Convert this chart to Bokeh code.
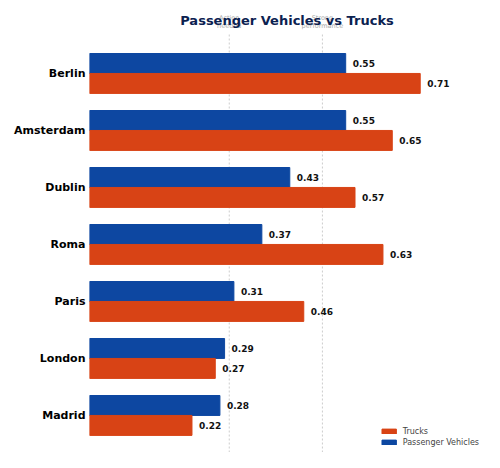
from bokeh.core.properties import value
from bokeh.models import ColumnDataSource, Range1d, LabelSet, Label, Legend, LegendItem, FixedTicker
from bokeh.plotting import figure
from bokeh.embed import file_html
from bokeh.resources import INLINE

cities = ["Berlin", "Amsterdam", "Dublin", "Roma", "Paris", "London", "Madrid"]
passenger = [0.55, 0.55, 0.43, 0.37, 0.31, 0.29, 0.28]
trucks = [0.71, 0.65, 0.57, 0.63, 0.46, 0.27, 0.22]
thresholds = [0.30, 0.50]
threshold_names = [("Action", "needed"), ("Strong", "performance")]

FONT = "DejaVu Sans"
BLUE = "#0d47a1"
ORANGE = "#d84315"
BAR_H = 0.35

# Berlin on top: row index counts up from the bottom
rows = [len(cities) - 1 - i for i in range(len(cities))]
src = ColumnDataSource(dict(
    city=cities,
    y_pass=[r + BAR_H / 2 for r in rows],
    y_truck=[r - BAR_H / 2 for r in rows],
    passenger=passenger,
    trucks=trucks,
    passenger_txt=[f"{v:.2f}" for v in passenger],
    trucks_txt=[f"{v:.2f}" for v in trucks],
))

y_top = rows[0] + 1.28
y_bottom = -0.65
x_end = 0.848

p = figure(
    width=484, height=452,
    x_range=Range1d(0, x_end), y_range=Range1d(y_bottom, y_top),
    output_backend="svg", toolbar_location=None,
    min_border_left=89, min_border_right=0, min_border_bottom=0, min_border_top=0,
)
p.outline_line_color = None
p.grid.grid_line_color = None
p.xaxis.visible = False
p.yaxis.ticker = FixedTicker(ticks=rows)
p.yaxis.major_label_overrides = {r: c for r, c in zip(rows, cities)}
p.yaxis.axis_line_color = None
p.yaxis.major_tick_line_color = None
p.yaxis.minor_tick_line_color = None
p.yaxis.major_tick_out = 0
p.yaxis.major_tick_in = 0
p.yaxis.major_label_standoff = 4
p.yaxis.major_label_text_font = FONT
p.yaxis.major_label_text_font_style = "bold"
p.yaxis.major_label_text_font_size = "11px"
p.yaxis.major_label_text_color = "black"

# threshold guides and their captions
p.segment(x0=thresholds, x1=thresholds, y0=y_bottom, y1=rows[0] + 0.7,
          line_color="#cccccc", line_dash="2 2", line_width=1, level="underlay")
for t, (l1, l2) in zip(thresholds, threshold_names):
    p.add_layout(Label(x=t, y=rows[0] + 0.97, text=l1, text_align="center", text_baseline="middle",
                       text_font=FONT, text_font_size="6.5px", text_color="#aaaaaa"))
    p.add_layout(Label(x=t, y=rows[0] + 0.83, text=l2, text_align="center", text_baseline="middle",
                       text_font=FONT, text_font_size="6.5px", text_color="#aaaaaa"))

r_p = p.hbar(y="y_pass", right="passenger", height=BAR_H, source=src,
             fill_color=BLUE, line_color=BLUE)
r_t = p.hbar(y="y_truck", right="trucks", height=BAR_H, source=src,
             fill_color=ORANGE, line_color=ORANGE)

for col, ycol in (("passenger", "y_pass"), ("trucks", "y_truck")):
    p.add_layout(LabelSet(x=col, y=ycol, text=col + "_txt",
                          x_offset=7, text_baseline="middle", source=src,
                          text_font=value(FONT), text_font_style=value("bold"),
                          text_font_size=value("9px"), text_color="#111111"))

# title drawn inside the frame so the captions behind it stay visible
p.add_layout(Label(x=x_end / 2, y=rows[0] + 0.93, text="Passenger Vehicles vs Trucks",
                   text_align="center", text_baseline="middle", text_font=FONT,
                   text_font_size="13px", text_font_style="bold", text_color="#0b2150"))

legend = Legend(items=[LegendItem(label="Trucks", renderers=[r_t]),
                       LegendItem(label="Passenger Vehicles", renderers=[r_p])],
                location="bottom_right", border_line_color=None, background_fill_alpha=0,
                label_text_font=FONT, label_text_font_size="8px",
                glyph_width=18, glyph_height=6, label_height=10, spacing=1,
                label_standoff=5, padding=3, margin=5)
p.add_layout(legend)

open("out.html", "w").write(file_html(p, INLINE))
